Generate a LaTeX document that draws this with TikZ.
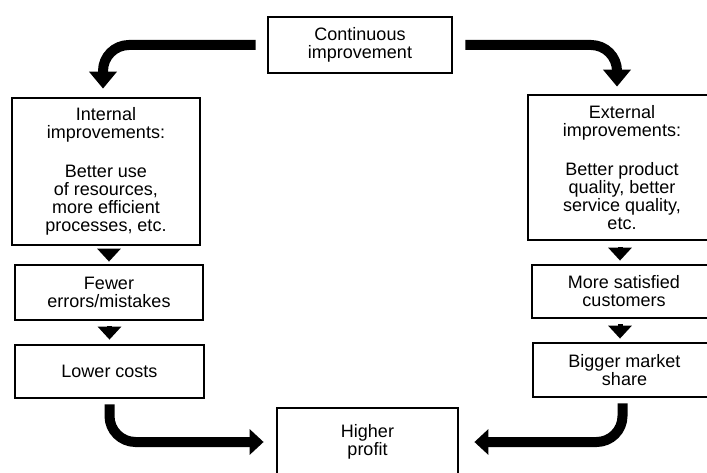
\documentclass[tikz,border=0pt]{standalone}
\usepackage{fontspec}
\setmainfont{Liberation Sans}
\usetikzlibrary{arrows.meta}
\tikzset{
  box/.style={draw=black, line width=2.8pt, fill=white, inner sep=0pt, align=center,
    font=\fontsize{18}{18}\selectfont},
  bigarrow/.style={line width=10pt, rounded corners=26pt,
    -{Triangle[width=27pt,length=17pt]}},
  smallarrow/.style={line width=5pt, -{Triangle[width=23pt,length=13pt]}},
}
\begin{document}
\begin{tikzpicture}[x=1pt,y=-1pt]
\clip (0,0) rectangle (707,473);
\fill[white] (0,0) rectangle (707,473);

\node[box, minimum width=184pt, minimum height=56pt] (top) at (360,45)
  {Continuous\\improvement};
\node[box, minimum width=188pt, minimum height=147pt] (int) at (106,171.5)
  {Internal\\improvements:\\[21pt]Better use\\of resources,\\more efficient\\processes, etc.};
\node[box, minimum width=188pt, minimum height=145pt] (ext) at (622,167.5)
  {External\\improvements:\\[21pt]Better product\\quality, better\\service quality,\\etc.};
\node[box, minimum width=188pt, minimum height=55pt] (fewer) at (109,292.5)
  {Fewer\\errors/mistakes};
\node[box, minimum width=189pt, minimum height=53pt] (lower) at (109.5,371.5)
  {Lower costs};
\node[box, minimum width=184pt, minimum height=53pt] (sat) at (624,291.5)
  {More satisfied\\customers};
\node[box, minimum width=183pt, minimum height=54pt] (big) at (624.5,370)
  {Bigger market\\share};
\node[box, minimum width=181pt, minimum height=68pt] (profit) at (367.5,442)
  {Higher\\profit};

% big curved arrows
\draw[bigarrow, shorten <=11pt, shorten >=8pt] (top.west) -| ([xshift=-3pt]int.north);
\draw[bigarrow, shorten <=12pt, shorten >=7pt] (top.east) -| ([xshift=-5pt]ext.north);
\draw[bigarrow, -{Triangle[width=25pt,length=14pt]}, shorten <=5pt, shorten >=12pt]
  (lower.south) |- (profit.west);
\draw[bigarrow, -{Triangle[width=25pt,length=14pt]}, shorten <=5pt, shorten >=15pt]
  ([xshift=-2pt]big.south) |- (profit.east);

% small arrows
\draw[smallarrow, shorten <=3pt, shorten >=2pt] (fewer.north |- int.south) -- (fewer.north);
\draw[smallarrow, shorten <=5pt, shorten >=4pt] (lower.north |- fewer.south) -- (lower.north);
\draw[smallarrow, shorten <=6pt, shorten >=3pt] ([xshift=-2pt]ext.south) -- ([xshift=-2pt]ext.south |- sat.north);
\draw[smallarrow, shorten <=5pt, shorten >=3pt] ([xshift=-4pt]sat.south) -- ([xshift=-4pt]sat.south |- big.north);
\end{tikzpicture}
\end{document}
